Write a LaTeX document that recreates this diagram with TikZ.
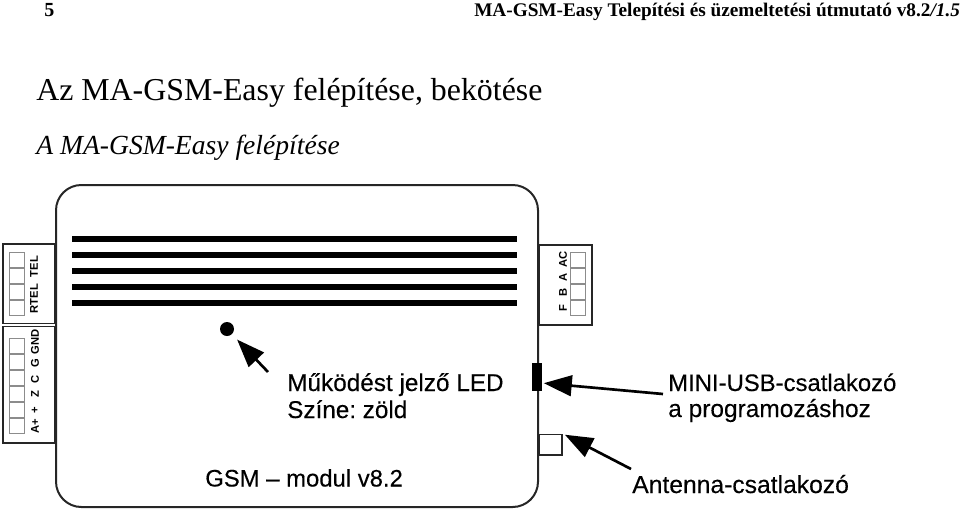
\documentclass[tikz,border=0pt]{standalone}
\usepackage{fontspec}
\setmainfont{Liberation Serif}
\setsansfont{Liberation Sans}
\newfontfamily\capfont[FakeBold=0.25]{Liberation Sans}
\usetikzlibrary{arrows.meta}
\tikzset{
  board/.style={draw=black!85,line width=1.5pt,rounded corners=19pt,fill=white,inner sep=0pt},
  termbox/.style={draw=black!85,line width=1pt,fill=white,inner sep=0pt},
  pin/.style={draw=black!45,line width=0.6pt,fill=white,inner sep=0pt,minimum width=11.5pt,minimum height=10.8pt},
  stripe/.style={fill=black,inner sep=0pt,minimum width=333.75pt,minimum height=4.2pt},
  pinlabel/.style={font=\sffamily\bfseries\fontsize{8.4}{9}\selectfont,rotate=90,inner sep=0pt},
  caption/.style={font=\capfont\frenchspacing\fontsize{17.9}{20}\selectfont,anchor=base west,inner sep=0pt},
  bigarrow/.style={line width=2pt,-{Triangle[length=21pt,width=15.5pt]}}
}
\begin{document}
\begin{tikzpicture}[x=0.75pt,y=0.75pt,yscale=-1,xscale=1]
\useasboundingbox (0,0) rectangle (960,511);

% Header
\draw (44,16) node (pagenum) [anchor=base west][inner sep=0pt] {\fontsize{15}{17}\selectfont\bfseries 5};
\draw (474,16) node (headline) [anchor=base west][inner sep=0pt] {\fontsize{14.45}{17}\selectfont\bfseries MA-GSM-Easy Telepítési és üzemeltetési útmutató v8.2\textit{/1.5}};
\draw (36,100.5) node (title) [anchor=base west][inner sep=0pt] {\fontsize{23.9}{26}\selectfont Az MA-GSM-Easy felépítése, bekötése};
\draw (36,154.5) node (subtitle) [anchor=base west][inner sep=0pt] {\fontsize{20.7}{23}\selectfont\itshape A MA-GSM-Easy felépítése};

%Shape: Terminal boxes
\draw (29,283.5) node (rtelbox) [termbox,minimum width=39pt,minimum height=59.5pt] {};
\draw (29,384.5) node (inbox) [termbox,minimum width=39pt,minimum height=87.5pt] {};
\draw (565.5,285) node (outbox) [termbox,minimum width=39.5pt,minimum height=60pt] {};
%Shape: Antenna socket
\draw (550.5,444.5) node (antenna) [termbox,minimum width=17pt,minimum height=15.5pt] {};

%Shape: Board
\draw (297,346) node (mainboard) [board,minimum width=361.5pt,minimum height=241.5pt] {};

%Shape: Vent stripes
\draw (294.5,239) node (stripea) [stripe] {};
\draw (294.5,255) node (stripeb) [stripe] {};
\draw (294.5,271) node (stripec) [stripe] {};
\draw (294.5,287) node (striped) [stripe] {};
\draw (294.5,303) node (stripee) [stripe] {};

%Shape: Pins top left
\draw (17,260) node (pina) [pin] {};
\draw (17,276) node (pinb) [pin] {};
\draw (17,292) node (pinc) [pin] {};
\draw (17,308) node (pind) [pin] {};
%Shape: Pins bottom left
\draw (17,346) node (pine) [pin] {};
\draw (17,362) node (pinf) [pin] {};
\draw (17,378) node (ping) [pin] {};
\draw (17,394) node (pinh) [pin] {};
\draw (17,410) node (pini) [pin] {};
\draw (17,426) node (pinj) [pin] {};
%Shape: Pins right
\draw (578,260) node (pink) [pin] {};
\draw (578,276) node (pinl) [pin] {};
\draw (578,292) node (pinm) [pin] {};
\draw (578,308) node (pinn) [pin] {};

% Pin labels
\draw (34,266.5) node (teltext) [pinlabel] {TEL};
\draw (34,298.5) node (rteltext) [pinlabel] {RTEL};
\draw (35,342) node (gndtext) [pinlabel] {GND};
\draw (35,363) node (gtext) [pinlabel] {G};
\draw (35,379.5) node (ctext) [pinlabel] {C};
\draw (35,394) node (ztext) [pinlabel] {Z};
\draw (35,410.5) node (plustext) [pinlabel] {+};
\draw (35,426.5) node (aptext) [pinlabel] {A+};
\draw (563,259) node (actext) [pinlabel] {AC};
\draw (563,277.5) node (atext) [pinlabel] {A};
\draw (563,292) node (btext) [pinlabel] {B};
\draw (563,308) node (ftext) [pinlabel] {F};

%Shape: LED and USB socket
\draw (227,329) node (led) [circle,fill=black,inner sep=0pt,minimum size=10.5pt] {};
\draw (536.5,377) node (usb) [fill=black,inner sep=0pt,minimum width=7.5pt,minimum height=21pt] {};

% Captions
\draw (287,391) node (ledtext) [caption,font=\capfont\fontsize{18.25}{20}\selectfont] {Működést jelző LED};
\draw (287,418) node (colortext) [caption,font=\capfont\frenchspacing\fontsize{18.2}{20}\selectfont] {Színe: zöld};
\draw (205,486.5) node (modultext) [caption] {GSM – modul v8.2};
\draw (668,391) node (usbtext) [caption] {MINI-USB-csatlakozó};
\draw (668,417) node (progtext) [caption,font=\capfont\fontsize{18.35}{20}\selectfont] {a programozáshoz};
\draw (632,493) node (antext) [caption,font=\capfont\fontsize{18.5}{20}\selectfont] {Antenna-csatlakozó};

%Straight Lines
\coordinate (ledtail) at (268,372);
\coordinate (usbtail) at (663,394);
\coordinate (antail) at (631,469);
\draw [bigarrow,shorten >=5.5pt] (ledtail) -- (led);
\draw [bigarrow,shorten >=1.5pt] (usbtail) -- (usb.east |- 0,383);
\draw [bigarrow,shorten >=2pt] (antail) -- (antenna.north east);
\end{tikzpicture}
\end{document}
